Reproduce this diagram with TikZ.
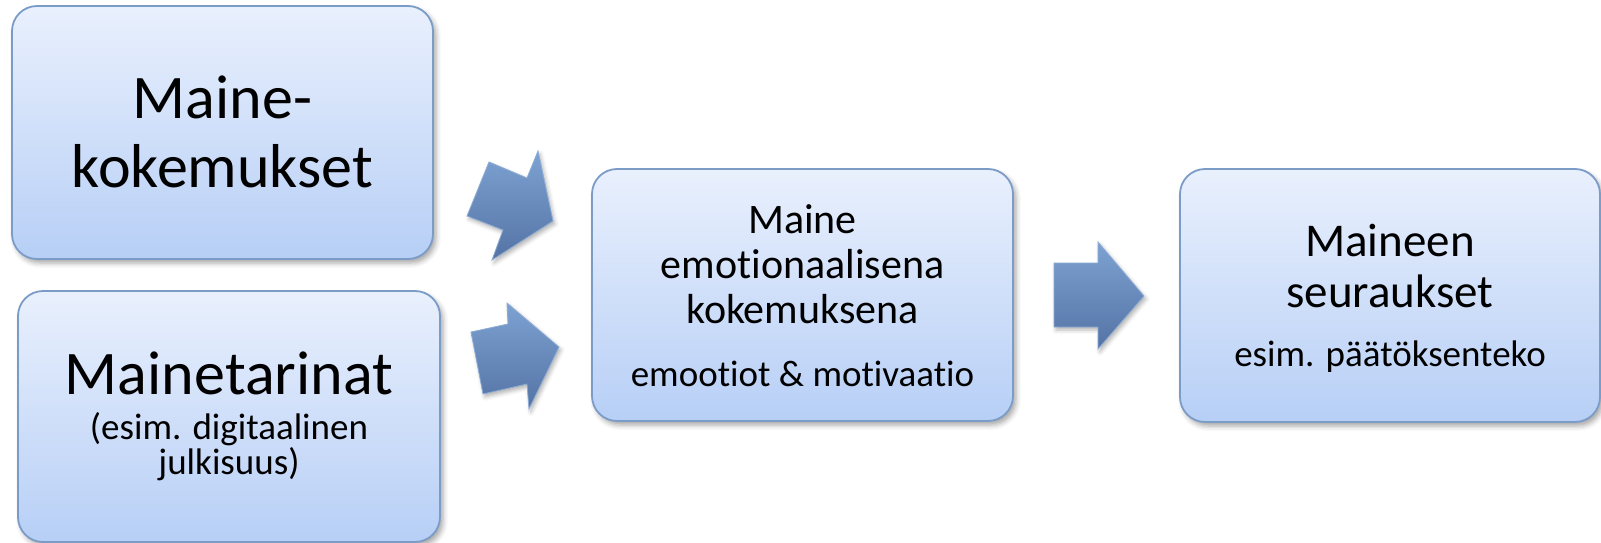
\documentclass[tikz,border=0pt]{standalone}
\usepackage{fontspec}
\setmainfont{Carlito}[Ligatures={NoCommon,NoContextual}]
\usetikzlibrary{shadows.blur}
\definecolor{boxtop}{RGB}{233,240,253}
\definecolor{boxbot}{RGB}{183,207,246}
\definecolor{boxline}{RGB}{124,156,200}
\definecolor{arrtop}{RGB}{125,162,210}
\definecolor{arrbot}{RGB}{84,115,165}
\definecolor{arrline}{RGB}{140,172,214}
\tikzset{
  box/.style={draw=boxline, line width=1.8pt, rounded corners=25pt,
    top color=boxtop, bottom color=boxbot, inner sep=0pt,
    blur shadow={shadow xshift=3pt, shadow yshift=-4pt, shadow blur radius=5pt, shadow opacity=35}},
  blockarrow/.style={draw=arrline, line width=0.8pt, top color=arrtop, bottom color=arrbot,
    blur shadow={shadow xshift=2pt, shadow yshift=-3pt, shadow blur radius=4pt, shadow opacity=30}},
  txt/.style={anchor=base, inner sep=0pt, text=black},
}
\begin{document}
\begin{tikzpicture}[x=1pt, y=-1pt]
\useasboundingbox (0,0) rectangle (1601,543);
% boxes
\node[box, minimum width=421pt, minimum height=253pt] (b1) at (222.5,132.5) {};
\node[box, minimum width=422pt, minimum height=251pt] (b2) at (229,416.5) {};
\node[box, minimum width=421pt, minimum height=252pt] (b3) at (802.5,295) {};
\node[box, minimum width=420pt, minimum height=253pt] (b4) at (1390,295.5) {};
% texts
\node[txt, font=\fontsize{62}{68}\selectfont] (t1a) at (222.5,118) {Maine-};
\node[txt, font=\fontsize{62}{68}\selectfont] (t1b) at (222.5,187) {kokemukset};
\node[txt, font=\fontsize{62}{68}\selectfont] (t2a) at (229,394) {Mainetarinat};
\node[txt, font=\fontsize{37}{40}\selectfont] (t2b) at (229,439) {(esim. digitaalinen};
\node[txt, font=\fontsize{37}{40}\selectfont] (t2c) at (229,474) {julkisuus)};
\node[txt, font=\fontsize{42}{46}\selectfont] (t3a) at (802.5,233) {Maine};
\node[txt, font=\fontsize{42}{46}\selectfont] (t3b) at (802.5,278) {emotionaalisena};
\node[txt, font=\fontsize{42}{46}\selectfont] (t3c) at (802.5,323) {kokemuksena};
\node[txt, font=\fontsize{37}{40}\selectfont] (t3d) at (802.5,386) {emootiot \& motivaatio};
\node[txt, font=\fontsize{47}{52}\selectfont] (t4a) at (1390,256) {Maineen};
\node[txt, font=\fontsize{47}{52}\selectfont] (t4b) at (1390,307) {seuraukset};
\node[txt, font=\fontsize{37}{40}\selectfont] (t4c) at (1390,366) {esim. päätöksenteko};
% block arrows
\path[blockarrow] (489,162) -- (527,178) -- (538,151) -- (553,221) -- (492,260) -- (503,230) -- (467,216) -- cycle;
\path[blockarrow] (471,332) -- (508,324) -- (507,303) -- (559,347) -- (529,409) -- (527,384) -- (483,394) -- cycle;
\path[blockarrow] (1054,263) -- (1098,263) -- (1098,242) -- (1144,296) -- (1098,349) -- (1098,327) -- (1054,327) -- cycle;
\end{tikzpicture}
\end{document}
